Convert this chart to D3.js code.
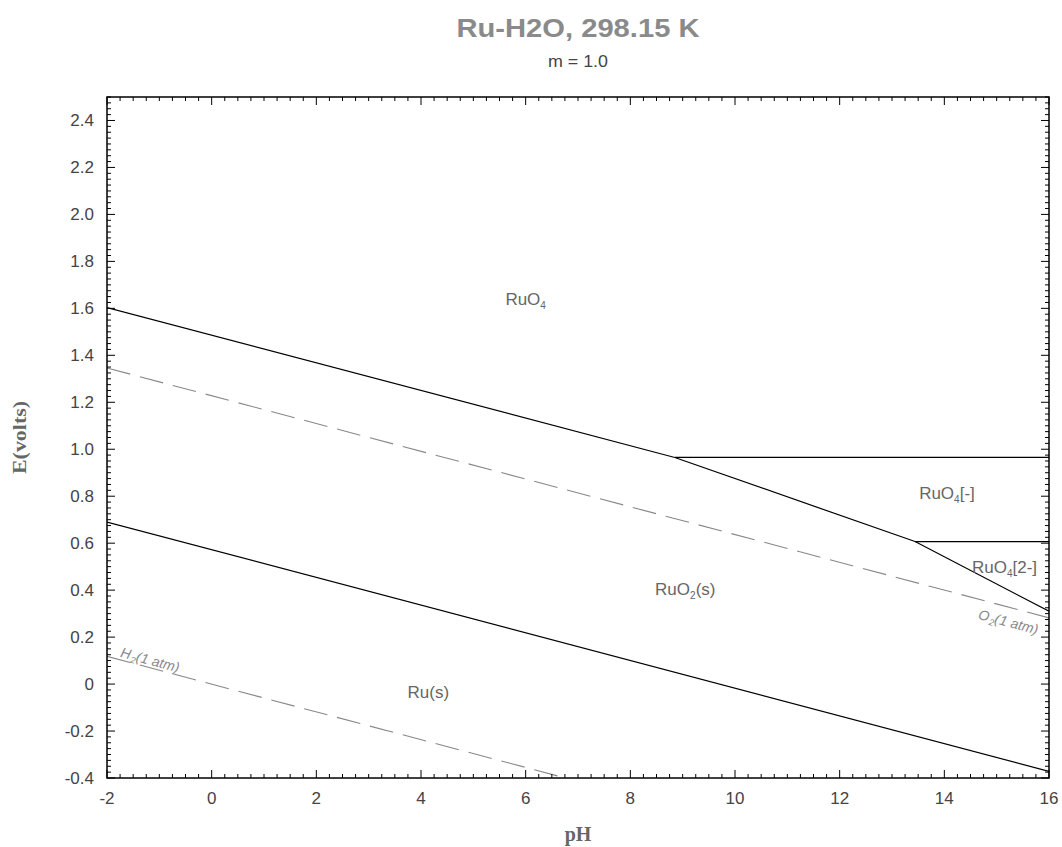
<!DOCTYPE html>
<html><head><meta charset="utf-8">
<script src="https://cdn.jsdelivr.net/npm/d3@7"></script>
<style>body{margin:0;background:#fff}</style>
</head><body>
<svg id="c" width="1062" height="847"></svg>
<script>
// ---- data ----
const title = "Ru-H2O, 298.15 K";
const subtitle = "m = 1.0";
const xTicks = [-2, 0, 2, 4, 6, 8, 10, 12, 14, 16];
const yTicks = [-0.4, -0.2, 0, 0.2, 0.4, 0.6, 0.8, 1.0, 1.2, 1.4, 1.6, 1.8, 2.0, 2.2, 2.4];
const xDomain = [-2, 16];
const yDomain = [-0.4, 2.5];
// solid phase boundaries [pH, E]
const bRuO4_RuO2 = [[-2, 1.603], [8.85, 0.965]];
const bRuO4_RuO4m = [[8.85, 0.965], [16, 0.965]];
const bRuO4m_RuO2 = [[8.85, 0.965], [13.44, 0.607]];
const bRuO4m_RuO42m = [[13.44, 0.607], [16, 0.607]];
const bRuO42m_RuO2 = [[13.44, 0.607], [16, 0.31]];
const bRuO2_Ru = [[-2, 0.69], [16, -0.372]];
// water stability lines
const lineO2 = [[-2, 1.346], [16, 0.282]];
const lineH2 = [[-2, 0.118], [6.76, -0.4]];
// region labels [pH, E (baseline), text, subscript, suffix]
const regionLabels = [
  [6.0, 1.614, "RuO", "4", ""],
  [14.05, 0.79, "RuO", "4", "[-]"],
  [15.15, 0.475, "RuO", "4", "[2-]"],
  [9.05, 0.38, "RuO", "2", "(s)"],
  [4.14, -0.059, "Ru(s)", "", ""]
];

// ---- layout ----
const L = 107, R = 1049, T = 97, B = 778;
const svg = d3.select("#c");
const x = d3.scaleLinear().domain(xDomain).range([L, R]);
const y = d3.scaleLinear().domain(yDomain).range([B, T]);
const cx = (L + R) / 2;
const SANS = "Liberation Sans, Arial, sans-serif";

svg.append("text").attr("x", cx).attr("y", 37).attr("text-anchor", "middle")
  .attr("font-family", SANS).attr("font-weight", "bold")
  .attr("font-size", 25).attr("fill", "#8a8a8a")
  .attr("textLength", 243).attr("lengthAdjust", "spacingAndGlyphs").text(title);
svg.append("text").attr("x", cx).attr("y", 67).attr("text-anchor", "middle")
  .attr("font-family", SANS)
  .attr("font-size", 16).attr("fill", "#444")
  .attr("textLength", 60).attr("lengthAdjust", "spacingAndGlyphs").text(subtitle);

const g = svg.append("g");
const clip = svg.append("clipPath").attr("id", "pc");
clip.append("rect").attr("x", L).attr("y", T).attr("width", R - L).attr("height", B - T);
const pg = g.append("g").attr("clip-path", "url(#pc)");

const line = d3.line().x(d => x(d[0])).y(d => y(d[1]));
[bRuO4_RuO2, bRuO4_RuO4m, bRuO4m_RuO2, bRuO4m_RuO42m, bRuO42m_RuO2, bRuO2_Ru].forEach(d => {
  pg.append("path").attr("d", line(d)).attr("fill", "none").attr("stroke", "#000").attr("stroke-width", 1.2);
});
[lineO2, lineH2].forEach(d => {
  pg.append("path").attr("d", line(d)).attr("fill", "none").attr("stroke", "#888")
    .attr("stroke-width", 1.1).attr("stroke-dasharray", "24,10");
});

// region labels
regionLabels.forEach(([px, py, t, sub, suf]) => {
  const tx = pg.append("text").attr("x", x(px)).attr("y", y(py)).attr("text-anchor", "middle")
    .attr("font-family", SANS).attr("font-size", 17).attr("fill", "#666");
  tx.append("tspan").text(t);
  if (sub) tx.append("tspan").attr("font-size", 10).attr("dy", 4).text(sub);
  if (suf) tx.append("tspan").attr("dy", -4).text(suf);
});

// water line labels
const ang = Math.atan2(y(lineO2[1][1]) - y(lineO2[0][1]), x(lineO2[1][0]) - x(lineO2[0][0])) * 180 / Math.PI;
function gasLabel(px, py, sym) {
  const tx = pg.append("text").attr("transform", `translate(${x(px)},${y(py)}) rotate(${ang})`)
    .attr("text-anchor", "middle").attr("font-family", SANS)
    .attr("font-style", "italic").attr("font-size", 14).attr("fill", "#888");
  tx.append("tspan").text(sym);
  tx.append("tspan").attr("font-size", 9).attr("dy", 3).attr("dx", 1).text("2");
  tx.append("tspan").attr("dy", -3).text("(1 atm)");
}
gasLabel(15.2, 0.245, "O");
gasLabel(-1.2, 0.083, "H");

// ticks
function minorRange(a, b, s) { const r = []; for (let v = a; v <= b + 1e-9; v += s) r.push(+v.toFixed(4)); return r; }
const xMinor = minorRange(-2, 16, 0.25);
const yMinor = minorRange(-0.4, 2.5, 0.025);
const tk = g.append("g").attr("stroke", "#000").attr("stroke-width", 1);
xMinor.forEach(v => {
  const len = xTicks.some(t => Math.abs(t - v) < 1e-6) ? 8 : 4;
  tk.append("line").attr("x1", x(v)).attr("x2", x(v)).attr("y1", B).attr("y2", B - len);
  tk.append("line").attr("x1", x(v)).attr("x2", x(v)).attr("y1", T).attr("y2", T + len);
});
yMinor.forEach(v => {
  const len = yTicks.some(t => Math.abs(t - v) < 1e-6) ? 8 : 4;
  tk.append("line").attr("y1", y(v)).attr("y2", y(v)).attr("x1", L).attr("x2", L + len);
  tk.append("line").attr("y1", y(v)).attr("y2", y(v)).attr("x1", R).attr("x2", R - len);
});

// frame
g.append("rect").attr("x", L).attr("y", T).attr("width", R - L).attr("height", B - T)
  .attr("fill", "none").attr("stroke", "#000").attr("stroke-width", 1.5);

// tick labels
g.selectAll(".xl").data(xTicks).enter().append("text")
  .attr("x", d => x(d)).attr("y", B + 26).attr("text-anchor", "middle")
  .attr("font-family", SANS).attr("font-size", 17).attr("fill", "#444")
  .text(d => d);
g.selectAll(".yl").data(yTicks).enter().append("text")
  .attr("x", L - 13).attr("y", d => y(d) + 6).attr("text-anchor", "end")
  .attr("font-family", SANS).attr("font-size", 17).attr("fill", "#444")
  .text(d => d === 0 ? "0" : d.toFixed(1));

// axis titles
svg.append("text").attr("x", cx).attr("y", 841).attr("text-anchor", "middle")
  .attr("font-family", "Liberation Serif, Times New Roman, serif").attr("font-weight", "bold")
  .attr("font-size", 20).attr("fill", "#666").text("pH");
svg.append("text").attr("transform", `translate(26,${(T + B) / 2}) rotate(-90)`).attr("text-anchor", "middle")
  .attr("font-family", "Liberation Serif, Times New Roman, serif").attr("font-weight", "bold")
  .attr("font-size", 19).attr("fill", "#666").attr("textLength", 73).attr("lengthAdjust", "spacingAndGlyphs")
  .text("E(volts)");
</script>
</body></html>
